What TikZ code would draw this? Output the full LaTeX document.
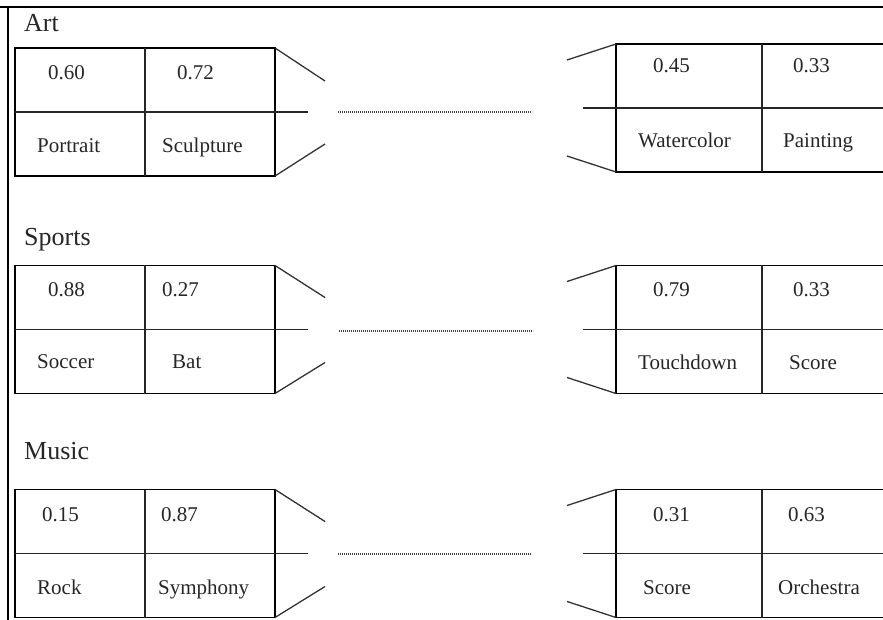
\documentclass[tikz,border=0pt]{standalone}
\usepackage{fontspec}
\setmainfont{Liberation Serif}
\usetikzlibrary{positioning,calc}
\tikzset{
  catbox/.style={draw=black, line width=1.8pt, minimum width=260pt, minimum height=128pt,
    inner sep=0pt, outer sep=0pt},
  divline/.style={draw=black!85, line width=1.2pt},
  slant/.style={draw=black!80, line width=1.3pt},
  dotrow/.style={draw=black!75, line width=1.6pt, dash pattern=on 1.2pt off 0.8pt},
  frameline/.style={draw=black, line width=1.8pt},
  cat/.style={font=\fontsize{26}{30}\selectfont, text=black!85, anchor=base west, inner sep=0pt},
  val/.style={font=\fontsize{21}{25}\selectfont, text=black!85, anchor=base west, inner sep=0pt}
}

\begin{document}
\begin{tikzpicture}[x=1pt, y=-1pt]
        \useasboundingbox (0,0) rectangle (883,620);
        \clip (0,0) rectangle (883,620);
        \draw[frameline] (0,7) -- (883,7);
        \draw[frameline, line width=1.3pt] (8,7) -- (8,620);

        % Art
        \node[cat] (art) at (24,32) {Art};
        \node[catbox] (artL) at (145,112) {};
        \node[catbox, minimum width=292pt] (artR) at (762,108) {};
        \node[val] (artL1) at (48,80) {0.60};
        \node[val] (artL2) at (177,80) {0.72};
        \node[val] (artL3) at (37,153) {Portrait};
        \node[val] (artL4) at (162,153) {Sculpture};
        \node[val] (artR1) at (653,73) {0.45};
        \node[val] (artR2) at (793,73) {0.33};
        \node[val] (artR3) at (638,148) {Watercolor};
        \node[val] (artR4) at (783,148) {Painting};
        \coordinate (artDa) at (338,112);
        \coordinate (artDb) at (532,112);

        % Sports
        \node[cat] (sports) at (24,246) {Sports};
        \node[catbox] (sportsL) at (145,329.5) {};
        \node[catbox, minimum width=292pt] (sportsR) at (762,329.5) {};
        \node[val] (sportsL1) at (48,296) {0.88};
        \node[val] (sportsL2) at (162,296) {0.27};
        \node[val] (sportsL3) at (37,368) {Soccer};
        \node[val] (sportsL4) at (172,368) {Bat};
        \node[val] (sportsR1) at (653,296) {0.79};
        \node[val] (sportsR2) at (793,296) {0.33};
        \node[val] (sportsR3) at (638,369) {Touchdown};
        \node[val] (sportsR4) at (789,369) {Score};
        \coordinate (sportsDa) at (339,331);
        \coordinate (sportsDb) at (533,331);

        % Music
        \node[cat] (music) at (24,459) {Music};
        \node[catbox] (musicL) at (145,553.5) {};
        \node[catbox, minimum width=292pt] (musicR) at (762,553.5) {};
        \node[val] (musicL1) at (42,521) {0.15};
        \node[val] (musicL2) at (161,521) {0.87};
        \node[val] (musicL3) at (37,594) {Rock};
        \node[val] (musicL4) at (158,594) {Symphony};
        \node[val] (musicR1) at (653,521) {0.31};
        \node[val] (musicR2) at (788,521) {0.63};
        \node[val] (musicR3) at (643,594) {Score};
        \node[val] (musicR4) at (778,594) {Orchestra};
        \coordinate (musicDa) at (338,554);
        \coordinate (musicDb) at (532,554);

        % cell lines, flaps and gaps
        \draw[divline] (artL.north) -- (artL.south);
        \draw[divline] (artL.west) -- ++(293,0) coordinate (artLmid);
        \draw[slant] (artL.north east) -- ++(50,33) coordinate (artLup);
        \draw[slant] (artL.south east) -- ++(50,-32) coordinate (artLdn);
        \draw[divline] (artR.north) -- (artR.south);
        \draw[divline] (artR.east) -- ++(-325,0) coordinate (artRmid);
        \draw[slant] (artR.north west) -- ++(-49,16) coordinate (artRup);
        \draw[slant] (artR.south west) -- ++(-49,-16) coordinate (artRdn);
        \draw[dotrow] (artDa) -- (artDb);

        \draw[divline] (sportsL.north) -- (sportsL.south);
        \draw[divline] (sportsL.west) -- ++(293,0) coordinate (sportsLmid);
        \draw[slant] (sportsL.north east) -- ++(50,32) coordinate (sportsLup);
        \draw[slant] (sportsL.south east) -- ++(50,-31) coordinate (sportsLdn);
        \draw[divline] (sportsR.north) -- (sportsR.south);
        \draw[divline] (sportsR.east) -- ++(-325,0) coordinate (sportsRmid);
        \draw[slant] (sportsR.north west) -- ++(-49,16) coordinate (sportsRup);
        \draw[slant] (sportsR.south west) -- ++(-49,-16) coordinate (sportsRdn);
        \draw[dotrow] (sportsDa) -- (sportsDb);

        \draw[divline] (musicL.north) -- (musicL.south);
        \draw[divline] (musicL.west) -- ++(293,0) coordinate (musicLmid);
        \draw[slant] (musicL.north east) -- ++(50,32) coordinate (musicLup);
        \draw[slant] (musicL.south east) -- ++(50,-31) coordinate (musicLdn);
        \draw[divline] (musicR.north) -- (musicR.south);
        \draw[divline] (musicR.east) -- ++(-325,0) coordinate (musicRmid);
        \draw[slant] (musicR.north west) -- ++(-49,16) coordinate (musicRup);
        \draw[slant] (musicR.south west) -- ++(-49,-16) coordinate (musicRdn);
        \draw[dotrow] (musicDa) -- (musicDb);
    \end{tikzpicture}
\end{document}
